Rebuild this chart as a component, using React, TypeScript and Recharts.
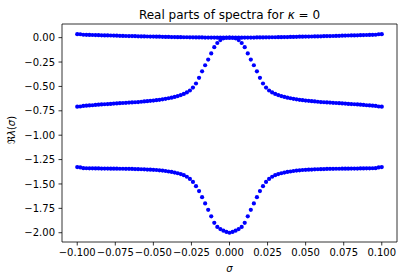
import React from 'react';
import { ScatterChart, Scatter, XAxis, YAxis, ReferenceArea } from 'recharts';

const sigma = [
  -0.1, -0.098, -0.096, -0.094, -0.092, -0.09, -0.088, -0.086, -0.084, -0.082,
  -0.08, -0.078, -0.076, -0.074, -0.072, -0.07, -0.068, -0.066, -0.064, -0.062,
  -0.06, -0.058, -0.056, -0.054, -0.052, -0.05, -0.048, -0.046, -0.044, -0.042,
  -0.04, -0.038, -0.036, -0.034, -0.032, -0.03, -0.028, -0.026, -0.024, -0.022,
  -0.02, -0.018, -0.016, -0.014, -0.012, -0.01, -0.008, -0.006, -0.004, -0.002,
  0,
  0.002, 0.004, 0.006, 0.008, 0.01, 0.012, 0.014, 0.016, 0.018, 0.02,
  0.022, 0.024, 0.026, 0.028, 0.03, 0.032, 0.034, 0.036, 0.038, 0.04,
  0.042, 0.044, 0.046, 0.048, 0.05, 0.052, 0.054, 0.056, 0.058, 0.06,
  0.062, 0.064, 0.066, 0.068, 0.07, 0.072, 0.074, 0.076, 0.078, 0.08,
  0.082, 0.084, 0.086, 0.088, 0.09, 0.092, 0.094, 0.096, 0.098, 0.1,
];

const topBranch = [
  0.036, 0.035, 0.030, 0.029, 0.028, 0.027, 0.026, 0.025, 0.024, 0.023,
  0.023, 0.022, 0.021, 0.020, 0.019, 0.018, 0.017, 0.016, 0.016, 0.015,
  0.014, 0.013, 0.013, 0.012, 0.011, 0.011, 0.010, 0.010, 0.009, 0.008,
  0.008, 0.006, 0.006, 0.005, 0.005, 0.004, 0.004, 0.003, 0.003, 0.002,
  0.002, 0.002, 0.001, 0.001, 0.001, 0.001, 0.000, 0.000, 0.000, 0.000,
  0.000,
  0.000, 0.000, 0.000, 0.000, 0.001, 0.001, 0.001, 0.001, 0.002, 0.002,
  0.002, 0.003, 0.003, 0.004, 0.004, 0.005, 0.005, 0.006, 0.006, 0.008,
  0.008, 0.009, 0.010, 0.010, 0.011, 0.011, 0.012, 0.013, 0.013, 0.014,
  0.015, 0.016, 0.016, 0.017, 0.018, 0.019, 0.020, 0.021, 0.022, 0.023,
  0.023, 0.024, 0.025, 0.026, 0.027, 0.028, 0.029, 0.030, 0.035, 0.036,
];

const middleBranch = [
  -0.708, -0.706, -0.700, -0.697, -0.695, -0.693, -0.690, -0.687, -0.685, -0.683,
  -0.681, -0.679, -0.676, -0.674, -0.672, -0.670, -0.668, -0.666, -0.664, -0.662,
  -0.660, -0.657, -0.654, -0.651, -0.648, -0.645, -0.641, -0.637, -0.632, -0.627,
  -0.621, -0.615, -0.608, -0.599, -0.589, -0.577, -0.562, -0.542, -0.512, -0.470,
  -0.412, -0.345, -0.283, -0.225, -0.162, -0.098, -0.055, -0.025, -0.007, -0.001,
  0.000,
  -0.001, -0.007, -0.025, -0.055, -0.098, -0.162, -0.225, -0.283, -0.345, -0.412,
  -0.470, -0.512, -0.542, -0.562, -0.577, -0.589, -0.599, -0.608, -0.615, -0.621,
  -0.627, -0.632, -0.637, -0.641, -0.645, -0.648, -0.651, -0.654, -0.657, -0.660,
  -0.662, -0.664, -0.666, -0.668, -0.670, -0.672, -0.674, -0.676, -0.679, -0.681,
  -0.683, -0.685, -0.687, -0.690, -0.693, -0.695, -0.697, -0.700, -0.706, -0.708,
];

const bottomBranch = [
  -1.327, -1.330, -1.338, -1.339, -1.340, -1.340, -1.341, -1.341, -1.342, -1.342,
  -1.342, -1.343, -1.343, -1.343, -1.344, -1.344, -1.345, -1.345, -1.346, -1.347,
  -1.348, -1.349, -1.350, -1.352, -1.353, -1.355, -1.357, -1.360, -1.363, -1.367,
  -1.372, -1.377, -1.383, -1.390, -1.399, -1.410, -1.426, -1.448, -1.479, -1.523,
  -1.573, -1.635, -1.700, -1.765, -1.832, -1.898, -1.940, -1.963, -1.979, -1.992,
  -2.000,
  -1.992, -1.979, -1.963, -1.940, -1.898, -1.832, -1.765, -1.700, -1.635, -1.573,
  -1.523, -1.479, -1.448, -1.426, -1.410, -1.399, -1.390, -1.383, -1.377, -1.372,
  -1.367, -1.363, -1.360, -1.357, -1.355, -1.353, -1.352, -1.350, -1.349, -1.348,
  -1.347, -1.346, -1.345, -1.345, -1.344, -1.344, -1.343, -1.343, -1.343, -1.342,
  -1.342, -1.342, -1.341, -1.341, -1.340, -1.340, -1.339, -1.338, -1.330, -1.327,
];

const xTicks = [-0.1, -0.075, -0.05, -0.025, 0, 0.025, 0.05, 0.075, 0.1];
const yTicks = [0, -0.25, -0.5, -0.75, -1, -1.25, -1.5, -1.75, -2];

const X_DOMAIN: [number, number] = [-0.11, 0.11];
const Y_DOMAIN: [number, number] = [-2.095, 0.14];

const toPoints = (ys: number[]) => sigma.map((s, i) => ({ x: s, y: ys[i] }));

const fmt = (digits: number) => (v: number) => {
  const s = Math.abs(v).toFixed(digits);
  return v < -1e-12 ? '\u2212' + s : s;
};

const Dot = (p: any) => <circle cx={p.cx} cy={p.cy} r={2.1} fill="#0000ff" />;

const FONT = 'DejaVu Sans';

export default function App() {
  return (
    <div style={{ position: 'absolute', left: 0, top: 0, width: 403, height: 280, background: '#fff' }}>
      <ScatterChart width={403} height={280} margin={{ top: 24, right: 6, bottom: 8, left: 0 }}>
        <XAxis
          type="number"
          dataKey="x"
          domain={X_DOMAIN}
          ticks={xTicks}
          allowDataOverflow
          tickFormatter={fmt(3)}
          axisLine={false}
          tickSize={3.5}
          tickMargin={3.5}
          tickLine={{ stroke: '#000', strokeWidth: 0.8 }}
          tick={{ fill: '#000', fontSize: 10, fontFamily: FONT }}
          height={30}
          interval={0}
        />
        <YAxis
          type="number"
          dataKey="y"
          domain={Y_DOMAIN}
          ticks={yTicks}
          allowDataOverflow
          tickFormatter={fmt(2)}
          axisLine={false}
          tickSize={3.5}
          tickMargin={3.5}
          tickLine={{ stroke: '#000', strokeWidth: 0.8 }}
          tick={{ fill: '#000', fontSize: 10, fontFamily: FONT }}
          width={62}
          interval={0}
        />
        <ReferenceArea
          x1={X_DOMAIN[0]}
          x2={X_DOMAIN[1]}
          y1={Y_DOMAIN[0]}
          y2={Y_DOMAIN[1]}
          fill="none"
          fillOpacity={0}
          stroke="#000"
          strokeWidth={0.8}
        />
        <Scatter data={toPoints(topBranch)} shape={Dot} isAnimationActive={false} />
        <Scatter data={toPoints(middleBranch)} shape={Dot} isAnimationActive={false} />
        <Scatter data={toPoints(bottomBranch)} shape={Dot} isAnimationActive={false} />
        <text x={229.5} y={19} textAnchor="middle" fontSize={12} fontFamily={FONT} fill="#000">
          Real parts of spectra for <tspan fontStyle="italic">κ</tspan> = 0
        </text>
        <text x={229.5} y={272} textAnchor="middle" fontSize={10} fontFamily={FONT} fill="#000" fontStyle="italic">
          σ
        </text>
        <text
          x={15}
          y={130}
          textAnchor="middle"
          fontSize={10}
          fontFamily={FONT}
          fill="#000"
          transform="rotate(-90 15 130)"
        >
          ℜ<tspan fontStyle="italic">λ</tspan>(<tspan fontStyle="italic">σ</tspan>)
        </text>
      </ScatterChart>
    </div>
  );
}
